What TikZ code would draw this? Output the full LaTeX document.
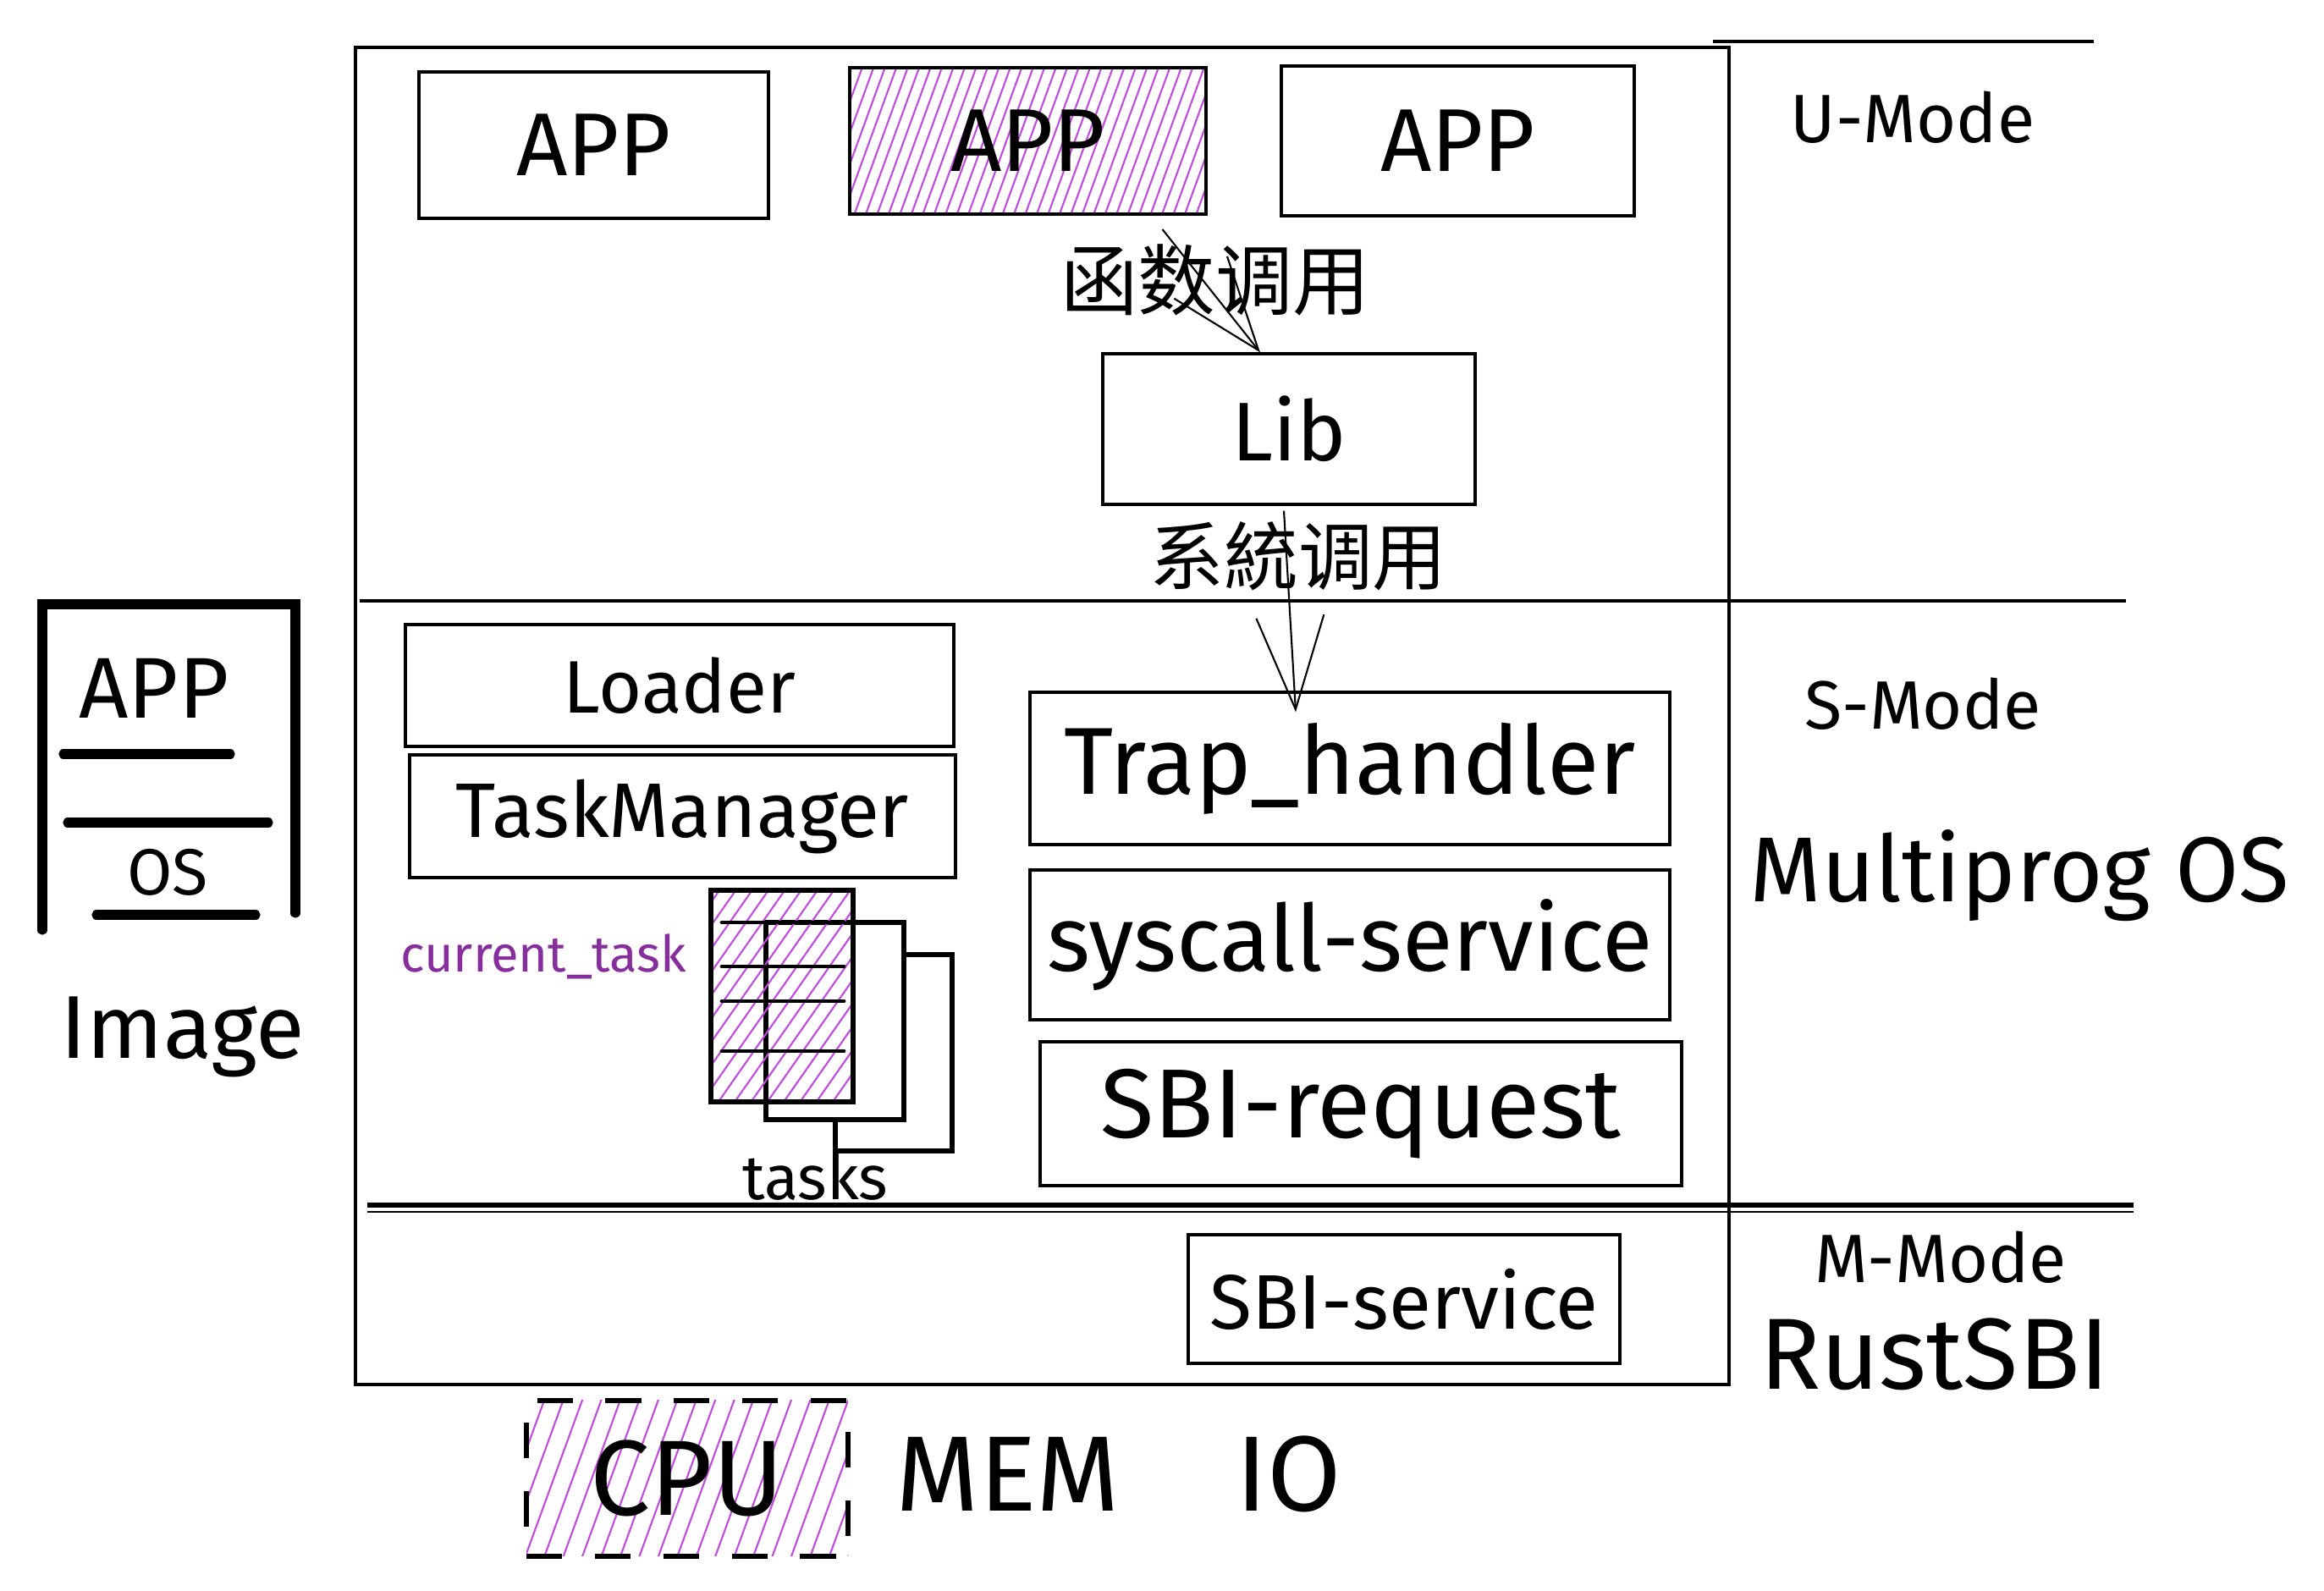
\documentclass[tikz,border=0pt]{standalone}
\usepackage{fontspec}
\setmainfont{Fira Sans}
\newfontfamily\cjk{Noto Sans CJK SC}
\usetikzlibrary{arrows.meta,calc,patterns.meta,positioning}
\definecolor{hatch}{HTML}{BE4BDB}
\definecolor{taskviolet}{HTML}{862E9C}
\newcommand{\tsize}[1]{\fontsize{#1}{#1}\selectfont}

\begin{document}
\begin{tikzpicture}[
  box/.style={draw,line width=0.9pt,inner sep=0pt},
  hatched/.style 2 args={pattern={Lines[angle=#1,distance=#2,line width=0.6pt]},pattern color=hatch},
  modeline/.style={line width=1pt},
  stroke/.style={line width=3.2pt,line cap=round},
  taskbox/.style={draw,line width=1.5pt,inner sep=0pt},
  arr/.style={line width=0.6pt,-{Straight Barb[length=11mm,width=8mm]}}
]
\useasboundingbox (0,0) rectangle (27.46,18.80);
\node[draw,line width=1.3pt,minimum width=16.23cm,minimum height=15.80cm] (main) at (12.315,10.34) {};
\draw[modeline] (20.24,18.31) -- (24.74,18.31);
\draw[modeline] (4.25,11.70) -- (25.12,11.70);
\draw[line width=1.6pt] (4.34,4.56) -- (25.21,4.56);
\draw[line width=0.8pt] (4.34,4.48) -- (25.21,4.48);
\node[font=\tsize{23pt}] (umode) at (22.60,17.41) {U-Mode};
\node[font=\tsize{23pt}] (smode) at (22.72,10.48) {S-Mode};
\node[font=\tsize{31pt}] (os) at (23.86,8.45) {Multiprog OS};
\node[font=\tsize{23pt}] (mmode) at (22.93,3.94) {M-Mode};
\node[font=\tsize{34pt}] (sbi) at (22.86,2.80) {RustSBI};

\node[box,minimum width=4.13cm,minimum height=1.73cm,font=\tsize{30pt}] (app1) at (7.015,17.085) {APP};
\node[box,hatched={70}{3.6pt},minimum width=4.21cm,minimum height=1.73cm,font=\tsize{30pt}] (app2) at (12.145,17.135) {APP};
\node[box,minimum width=4.17cm,minimum height=1.77cm,font=\tsize{30pt}] (app3) at (17.225,17.135) {APP};
\node[box,minimum width=4.40cm,minimum height=1.78cm,font=\tsize{28pt}] (lib) at (15.23,13.73) {Lib};
\node[font=\cjk\tsize{26pt}] (fcall) at (14.36,15.49) {函数调用};
\node[font=\cjk\tsize{25pt}] (scall) at (15.34,12.23) {系統调用};

\node[box,minimum width=6.48cm,minimum height=1.44cm,font=\tsize{25pt}] (loader) at (8.03,10.70) {Loader};
\node[box,minimum width=6.45cm,minimum height=1.45cm,font=\tsize{26pt}] (taskman) at (8.065,9.155) {TaskManager};
\node[box,minimum width=7.56cm,minimum height=1.80cm,font=\tsize{32pt}] (trap) at (15.95,9.72) {Trap\_handler};
\node[box,minimum width=7.56cm,minimum height=1.77cm,font=\tsize{31pt}] (syscall) at (15.95,7.635) {syscall-service};
\node[box,minimum width=7.58cm,minimum height=1.70cm,font=\tsize{33pt}] (sbireq) at (16.08,5.64) {SBI-request};
\node[box,minimum width=5.10cm,minimum height=1.52cm,font=\tsize{26pt}] (sbiserv) at (16.59,3.45) {SBI-service};

\draw[arr] ($(app2.south)+(1.59,-0.17)$) -- ($(lib.north)+(-0.34,0)$);
\draw[arr] ($(lib.south)+(-0.06,-0.06)$) -- ($(trap.north)+(-0.64,-0.25)$);

\node[taskbox,fill=white,minimum width=1.38cm,minimum height=2.32cm] (task3) at (10.56,6.36) {};
\node[taskbox,fill=white,minimum width=1.63cm,minimum height=2.33cm] (task2) at (9.865,6.735) {};
\node[taskbox,hatched={55}{4.5pt},minimum width=1.68cm,minimum height=2.50cm] (task1) at (9.24,7.03) {};
\foreach \y in {7.90,7.38,6.97,6.38}
  \draw[line width=1.4pt,line cap=round] (8.53,\y) -- (9.97,\y);
\node[font=\tsize{21pt}] (tasks) at (9.63,4.90) {tasks};
\node[font=\tsize{17pt},text=taskviolet] (cur) at (6.42,7.50) {current\_task};

\draw[stroke] (0.50,7.81) -- (0.50,11.66) -- (3.49,11.66) -- (3.49,8.01);
\draw[stroke] (0.75,9.89) -- (2.72,9.89);
\draw[stroke] (0.80,9.08) -- (3.17,9.08);
\draw[stroke] (1.14,7.99) -- (3.02,7.99);
\node[font=\tsize{29pt}] (imgapp) at (1.82,10.67) {APP};
\node[font=\tsize{22pt}] (imgos) at (1.98,8.49) {OS};
\node[font=\tsize{30pt}] (image) at (2.16,6.55) {Image};

\node[draw,line width=1.8pt,dash pattern=on 12pt off 11pt,hatched={70}{6pt},minimum width=3.80cm,minimum height=1.84cm,font=\tsize{36pt}] (cpu) at (8.12,1.33) {CPU};
\node[font=\tsize{36pt}] (mem) at (11.91,1.38) {MEM};
\node[font=\tsize{36pt}] (io) at (15.23,1.38) {IO};
\end{tikzpicture}
\end{document}
